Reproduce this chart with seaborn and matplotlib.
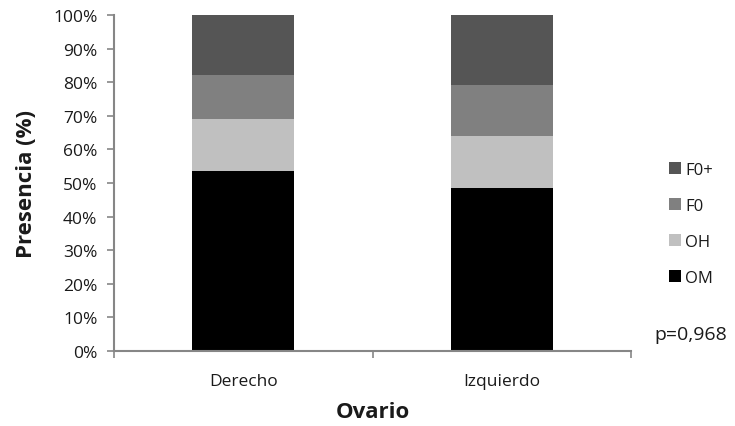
import numpy as np
import pandas as pd
import matplotlib
matplotlib.use("Agg")
import matplotlib.pyplot as plt
import seaborn as sns
from matplotlib.ticker import PercentFormatter

# values (percent of total per ovary)
ovarios = ["Derecho", "Izquierdo"]
estados = ["OM", "OH", "F0", "F0+"]
om = [53.7, 48.6]
oh = [15.4, 15.3]
f0 = [13.0, 15.2]
f0_plus = [17.9, 20.9]
colores = {"OM": "#000000", "OH": "#c0c0c0", "F0": "#808080", "F0+": "#555555"}
p_texto = "p=0,968"

sns.set_style("white")
plt.rcParams["font.family"] = ["Open Sans", "DejaVu Sans"]

df = pd.DataFrame({"Ovario": ovarios, "OM": om, "OH": oh, "F0": f0, "F0+": f0_plus})
# cumulative heights so the stacks can be drawn as overlapping bars
acum = df[estados].cumsum(axis=1) / 100.0
acum["Ovario"] = df["Ovario"]

fig = plt.figure(figsize=(7.35, 4.27), dpi=100)
ax = fig.add_axes([114 / 735, 1 - 352 / 427, 517 / 735, 336 / 427])

for est in reversed(estados):
    sns.barplot(data=acum, x="Ovario", y=est, color=colores[est], width=0.395,
                saturation=1, label=est, ax=ax, edgecolor="none")

ax.set_ylim(0, 1)
ax.set_xlim(-0.5, 1.5)
ax.set_yticks(np.arange(0, 1.01, 0.1))
ax.yaxis.set_major_formatter(PercentFormatter(1.0, decimals=0))

gris = "#868686"
texto = "#1a1a1a"
for side in ["top", "right"]:
    ax.spines[side].set_visible(False)
for side in ["left", "bottom"]:
    ax.spines[side].set_color(gris)
    ax.spines[side].set_linewidth(1.5)

ax.tick_params(axis="y", left=True, length=5, width=1.2, color=gris,
               labelsize=12.5, labelcolor=texto, pad=7)
ax.set_xticks([0, 1])
ax.set_xticks([-0.5, 0.5, 1.5], minor=True)
ax.tick_params(axis="x", which="major", bottom=False, labelsize=12.5,
               labelcolor=texto, pad=12)
ax.tick_params(axis="x", which="minor", bottom=True, length=5, width=1.2, color=gris)

ax.set_xlabel("Ovario", fontsize=16, fontweight="bold", color=texto)
ax.xaxis.set_label_coords(0.5, (352 - 413) / 336)
ax.xaxis.label.set_verticalalignment("center")
ax.set_ylabel("Presencia (%)", fontsize=16, fontweight="bold", color=texto)
ax.yaxis.set_label_coords((27 - 114) / 517, 0.5)
ax.yaxis.label.set_verticalalignment("center")

ax.legend(loc="center left", bbox_to_anchor=(669 / 735, 1 - 225 / 427),
          bbox_transform=fig.transFigure, frameon=False, fontsize=12,
          handlelength=0.72, handleheight=0.72, handletextpad=0.25,
          labelspacing=1.2, borderaxespad=0, borderpad=0,
          labelcolor=texto)

fig.text(654 / 735, 1 - 335 / 427, p_texto, fontsize=14, va="center", ha="left",
         color=texto)

fig.savefig("out.png", dpi=100)
